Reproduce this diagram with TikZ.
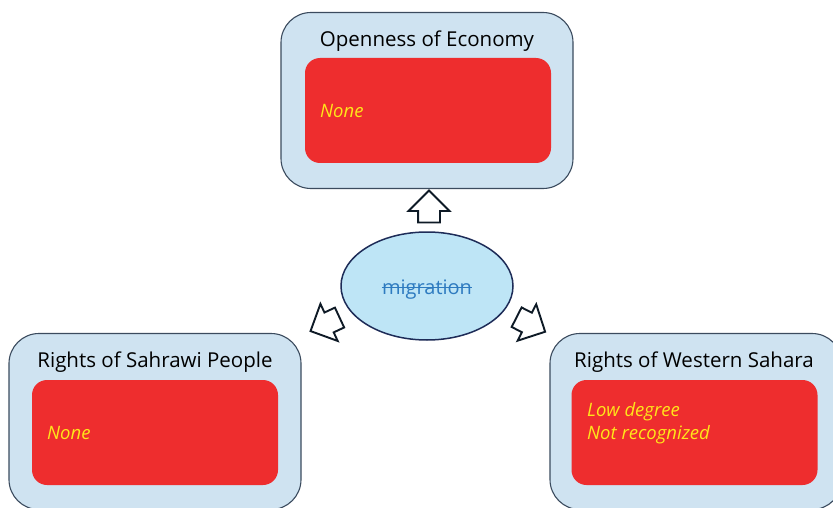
\documentclass[tikz,border=0pt]{standalone}
\usepackage{fontspec}
\setmainfont{Open Sans}
\usetikzlibrary{shapes.geometric,shapes.arrows,calc}
\definecolor{panelfill}{HTML}{CFE3F1}
\definecolor{paneledge}{HTML}{3B4B5E}
\definecolor{cardred}{HTML}{EE2D2E}
\definecolor{cardtext}{HTML}{FFE61A}
\definecolor{ovalfill}{HTML}{BEE5F6}
\definecolor{ovaledge}{HTML}{1E2C58}
\definecolor{ovaltext}{HTML}{2E7BC0}
\definecolor{arrowedge}{HTML}{0E1A26}
\tikzset{
  panel/.style={draw=paneledge, line width=1.1pt, fill=panelfill, rounded corners=30pt,
    minimum width=292pt, minimum height=176pt, inner sep=0pt},
  card/.style={fill=cardred, rounded corners=15pt, minimum width=246pt, minimum height=105pt,
    inner sep=0pt},
  paneltitle/.style={font=\fontsize{20.5}{24}\selectfont, text=black, inner sep=0pt, anchor=base},
  cardnote/.style={font=\fontsize{18.5}{23}\selectfont\itshape, text=cardtext, inner sep=0pt,
    anchor=base west},
  blockarrow/.style={single arrow, draw=arrowedge, line width=1.9pt, fill=white,
    minimum height=32pt, minimum width=39pt, single arrow head extend=9.5pt,
    inner sep=0pt, inner ysep=10pt}
}
\begin{document}
\begin{tikzpicture}[x=1pt,y=-1pt]
\useasboundingbox (0,0) rectangle (833,508);
\clip (0,0) rectangle (833,508);

% top panel: openness of economy
\node[panel] (econ) at (427,100.5) {};
\node[card] (econcard) at (428,110.5) {};
\node[paneltitle] (econtitle) at (427,47) {Openness of Economy};
\node[cardnote] (econnote) at (320,117.5) {None};

% lower left panel: rights of the Sahrawi people
\node[panel] (people) at (155,421.5) {};
\node[card] (peoplecard) at (155,432.5) {};
\node[paneltitle] (peopletitle) at (155,367) {Rights of Sahrawi People};
\node[cardnote] (peoplenote) at (47,439.5) {None};

% lower right panel: rights of Western Sahara
\node[panel] (sahara) at (696,421.5) {};
\node[card] (saharacard) at (694.5,432.5) {};
\node[paneltitle] (saharatitle) at (694,367) {Rights of Western Sahara};
\node[cardnote] (saharanote1) at (587,416) {Low degree};
\node[cardnote] (saharanote2) at (587,439) {Not recognized};

% central oval with struck-through label
\node[ellipse, draw=ovaledge, line width=1.5pt, fill=ovalfill,
  minimum width=172pt, minimum height=108pt, inner sep=0pt] (mig) at (427,286) {};
\node[font=\fontsize{20}{24}\selectfont, text=ovaltext, inner sep=0pt, anchor=base] (migtext) at (427,294) {migration};
\draw[ovaltext, line width=1.2pt] ($(migtext.base west)+(0,-6.5)$) -- ($(migtext.base east)+(0,-6.5)$);

% outline arrows pointing away from the oval
\node[blockarrow, rotate=90] (toecon) at (429,212) {};
\node[blockarrow, rotate=205] (topeople) at (330,322) {};
\node[blockarrow, rotate=-27] (tosahara) at (526,322) {};
\end{tikzpicture}
\end{document}
